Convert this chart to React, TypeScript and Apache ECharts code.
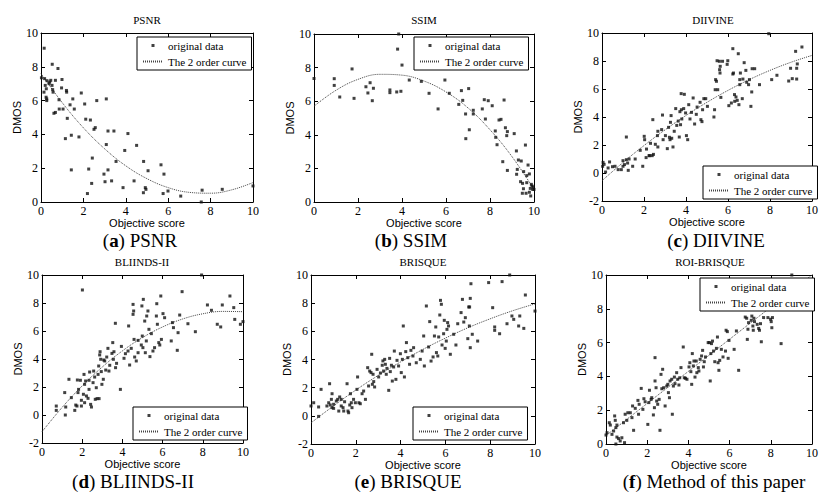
import React, { useEffect, useRef } from "react";
import * as echarts from "echarts";

type Pt = [number, number];

// ---------- data ----------
const psnrPoints: Pt[] = [
  [0.15, 9.1], [0.02, 7.35], [0.17, 7.3], [0.28, 7.18], [0.2, 6.9], [0.25, 6.7], [0.14, 6.5], [0.24, 6.2],
  [0.27, 6.1], [0.27, 6.0], [0.38, 7.0], [0.41, 7.1], [0.46, 7.2], [0.52, 6.9], [0.55, 6.65], [0.57, 6.5],
  [0.53, 8.15], [0.68, 7.2], [0.8, 7.9], [0.99, 7.25], [0.97, 6.75], [0.85, 6.05], [1.2, 6.6], [1.21, 6.5],
  [0.86, 5.5], [1.04, 5.5], [0.61, 5.25], [0.68, 5.3], [1.24, 4.95], [1.37, 5.75], [1.5, 6.1], [1.57, 5.5],
  [1.9, 6.45], [2.06, 5.8], [1.15, 3.75], [1.43, 3.95], [1.79, 3.85], [2.63, 6.0], [3.08, 6.1], [2.11, 4.9],
  [2.33, 4.85], [2.5, 4.3], [2.56, 4.4], [3.16, 4.2], [3.44, 4.2], [3.08, 3.4], [4.1, 4.05], [3.95, 3.05],
  [4.51, 3.35], [3.54, 2.4], [2.42, 2.6], [1.43, 1.9], [2.25, 1.95], [2.97, 1.65], [3.16, 1.9], [3.02, 1.2],
  [3.33, 1.25], [2.39, 1.1], [2.19, 0.5], [3.87, 0.85], [4.39, 1.25], [4.84, 2.4], [5.05, 1.85], [4.92, 0.85],
  [4.95, 0.75], [4.83, 0.55], [5.66, 2.2], [5.8, 1.65], [5.76, 0.5], [5.99, 0.65], [6.59, 0.35], [7.6, 0.7],
  [7.56, 0.0], [8.55, 0.75], [10.0, 0.95],
];

const ssimPoints: Pt[] = [
  [0.0, 7.35], [0.92, 7.34], [0.92, 6.94], [1.17, 6.25], [1.73, 7.92], [1.82, 6.17], [2.36, 6.86], [2.55, 7.1],
  [2.45, 6.49], [2.7, 6.77], [2.65, 6.03], [3.45, 6.67], [3.45, 6.51], [3.8, 9.1], [3.85, 10.0], [3.76, 6.55],
  [3.95, 6.59], [4.0, 8.15], [4.33, 7.26], [4.88, 7.18], [5.23, 6.47], [5.64, 5.54], [5.95, 7.26], [6.15, 6.47],
  [6.58, 5.81], [6.7, 6.63], [6.76, 6.05], [6.89, 5.24], [6.9, 3.77], [7.03, 6.75], [7.06, 4.3], [7.24, 5.46],
  [7.24, 5.24], [7.65, 5.54], [7.74, 6.09], [7.79, 4.94], [7.92, 6.03], [8.1, 5.73], [8.24, 4.23], [8.26, 3.85],
  [8.32, 3.41], [8.41, 4.88], [8.5, 4.92], [8.58, 2.4], [8.64, 6.07], [8.7, 4.42], [8.76, 3.95], [8.79, 4.19],
  [8.79, 1.88], [9.1, 4.07], [9.2, 3.04], [9.24, 1.94], [9.21, 1.65], [9.29, 2.5], [9.42, 2.44], [9.39, 1.21],
  [9.48, 1.11], [9.53, 1.81], [9.61, 3.39], [9.52, 0.79], [9.67, 1.15], [9.67, 1.57], [9.73, 2.2], [9.79, 1.67],
  [9.83, 0.81], [9.88, 1.05], [9.47, 0.52], [9.64, 0.52], [9.79, 0.58], [9.85, 0.36], [9.94, 0.75], [10.0, 0.75],
  [9.91, 0.95], [9.97, 0.9],
];

const diivinePoints: Pt[] = [
  [0.05, 0.76], [0.1, 0.62], [0.03, 0.48], [0.17, 0.07], [0.29, 0.36], [0.36, 0.79], [0.5, 0.45], [0.62, 0.48],
  [0.77, 0.24], [0.92, 0.24], [1.0, 0.48], [1.0, 0.88], [1.07, 0.6], [1.16, 0.95], [1.22, 0.71], [1.25, 0.19],
  [1.16, 2.57], [1.29, 1.0], [1.46, 0.48], [1.58, 1.0], [1.82, 1.62], [1.94, 0.48], [2.01, 2.62], [2.03, 2.38],
  [2.12, 1.71], [2.1, 1.1], [2.24, 1.24], [2.31, 2.12], [2.27, 1.24], [2.39, 1.24], [2.45, 1.33], [2.42, 3.81],
  [2.54, 2.05], [2.64, 2.67], [2.66, 1.86], [2.66, 2.98], [2.84, 3.1], [2.88, 4.14], [2.91, 2.38], [3.02, 2.67],
  [3.11, 1.74], [3.17, 3.26], [3.21, 2.55], [3.26, 3.62], [3.29, 4.1], [3.24, 2.38], [3.32, 2.48], [3.38, 1.86],
  [3.44, 2.98], [3.51, 4.6], [3.56, 3.4], [3.63, 3.71], [3.68, 2.57], [3.71, 4.38], [3.74, 3.45], [3.78, 4.52],
  [3.8, 3.86], [3.89, 4.6], [3.77, 5.67], [3.92, 5.62], [3.98, 4.29], [4.02, 2.67], [4.08, 2.38], [4.13, 4.88],
  [4.19, 3.86], [4.26, 4.33], [4.34, 5.36], [4.41, 3.5], [4.49, 4.19], [4.53, 4.71], [4.67, 5.05], [4.71, 3.81],
  [4.76, 3.67], [4.79, 4.52], [4.85, 5.31], [4.94, 5.31], [5.02, 4.76], [5.33, 4.0], [5.36, 4.52], [5.41, 6.67],
  [5.45, 6.55], [5.39, 5.95], [5.51, 5.95], [5.48, 8.02], [5.59, 7.98], [5.63, 7.62], [5.6, 7.38], [5.62, 7.14],
  [5.66, 5.4], [5.74, 7.98], [5.96, 7.76], [5.99, 8.02], [6.04, 4.81], [6.16, 5.0], [6.23, 8.88], [6.23, 7.07],
  [6.26, 7.14], [6.31, 5.6], [6.32, 5.12], [6.38, 5.43], [6.44, 5.19], [6.49, 8.52], [6.52, 4.88], [6.56, 6.67],
  [6.59, 7.14], [6.56, 6.31], [6.68, 5.31], [6.71, 6.71], [6.77, 7.88], [6.85, 7.33], [6.89, 6.48], [6.98, 6.31],
  [7.02, 6.67], [7.09, 4.76], [7.13, 5.79], [7.15, 7.45], [7.27, 7.45], [7.5, 6.31], [7.94, 9.95], [8.08, 6.67],
  [8.33, 6.98], [8.89, 6.57], [8.98, 7.48], [9.06, 6.74], [9.22, 8.69], [9.27, 7.48], [9.3, 7.79], [9.27, 6.71],
  [9.52, 9.0],
];

const bliindsPoints: Pt[] = [
  [0.71, 0.64], [0.71, 0.33], [1.13, 1.6], [1.16, 0.0], [1.18, 0.57], [1.34, 2.55], [1.46, 1.24], [1.63, 0.33],
  [1.68, 0.71], [1.74, 0.64], [1.76, 2.5], [1.79, 1.6], [1.82, 1.83], [1.91, 2.48], [1.96, 1.05], [1.96, 0.64],
  [2.01, 8.93], [2.06, 1.48], [2.09, 2.9], [2.12, 2.19], [2.12, 0.88], [2.17, 2.43], [2.21, 1.36], [2.29, 1.19],
  [2.34, 1.83], [2.34, 2.48], [2.37, 3.07], [2.42, 0.76], [2.46, 0.57], [2.54, 2.31], [2.57, 3.14], [2.62, 2.71],
  [2.65, 1.12], [2.7, 1.95], [2.74, 1.17], [2.79, 2.9], [2.82, 3.5], [2.84, 1.17], [2.87, 4.29], [2.89, 4.52],
  [2.92, 3.98], [2.95, 3.1], [2.98, 2.19], [3.05, 2.55], [3.07, 3.93], [3.12, 3.86], [3.17, 3.21], [3.22, 4.14],
  [3.28, 4.76], [3.33, 3.14], [3.37, 3.55], [3.48, 4.4], [3.52, 5.17], [3.55, 3.98], [3.58, 4.52], [3.65, 6.55],
  [3.66, 3.38], [3.71, 3.69], [3.9, 1.83], [3.95, 4.9], [4.08, 4.05], [4.15, 4.38], [4.28, 4.57], [4.31, 6.36],
  [4.36, 3.57], [4.44, 4.76], [4.53, 7.9], [4.53, 7.19], [4.56, 7.43], [4.58, 5.4], [4.61, 4.14], [4.69, 3.86],
  [4.78, 5.33], [4.78, 4.45], [4.94, 5.0], [4.97, 7.79], [4.99, 5.64], [5.02, 4.81], [5.04, 8.26], [5.11, 6.71],
  [5.14, 4.45], [5.19, 5.29], [5.21, 7.07], [5.27, 7.43], [5.32, 6.12], [5.37, 4.17], [5.44, 5.81], [5.52, 4.57],
  [5.6, 4.81], [5.69, 7.07], [5.71, 7.95], [5.74, 6.48], [5.81, 5.17], [5.86, 5.0], [5.91, 8.5], [5.94, 5.4],
  [6.02, 7.24], [6.1, 6.95], [6.43, 5.29], [6.49, 6.6], [6.54, 6.24], [6.73, 4.62], [6.77, 5.88], [6.85, 7.14],
  [6.97, 8.81], [7.26, 6.52], [7.63, 5.95], [7.94, 10.0], [8.23, 7.86], [8.43, 7.48], [8.72, 6.48], [8.89, 6.29],
  [8.97, 7.86], [9.35, 8.5], [9.54, 7.67], [9.59, 6.83], [9.87, 6.48], [10.0, 6.67],
];

const brisquePoints: Pt[] = [
  [0.0, 0.7], [0.12, 0.93], [0.34, 0.63], [0.34, -0.04], [0.45, 1.88], [0.71, 0.7], [0.79, 0.93], [0.83, 2.28],
  [0.86, 0.77], [0.91, 1.17], [0.94, 1.57], [0.94, 0.58], [1.01, 0.82], [1.01, 0.53], [1.13, 1.05], [1.19, 1.17],
  [1.24, 0.34], [1.28, 1.34], [1.35, 1.17], [1.35, 0.7], [1.43, 0.58], [1.46, 0.34], [1.5, 1.0], [1.61, 2.28],
  [1.65, 0.34], [1.68, 0.22], [1.73, 0.77], [1.76, 1.57], [1.8, 0.93], [1.83, 0.58], [1.9, 1.17], [1.98, 0.93],
  [2.05, 1.88], [2.08, 2.76], [2.14, 0.93], [2.2, 0.86], [2.28, 1.57], [2.35, 1.76], [2.43, 1.17], [2.53, 3.42],
  [2.57, 2.12], [2.62, 3.18], [2.68, 3.07], [2.71, 4.37], [2.74, 2.24], [2.77, 2.95], [2.8, 2.43], [2.84, 2.05],
  [2.95, 3.3], [3.02, 2.76], [3.1, 3.04], [3.18, 3.59], [3.21, 3.9], [3.24, 3.18], [3.29, 4.01], [3.32, 3.66],
  [3.36, 2.95], [3.39, 3.37], [3.47, 1.81], [3.51, 4.08], [3.54, 3.14], [3.59, 3.59], [3.63, 2.47], [3.69, 3.47],
  [3.72, 4.6], [3.79, 2.59], [3.84, 3.94], [3.91, 3.54], [3.99, 4.41], [4.03, 3.07], [4.08, 4.01], [4.12, 6.38],
  [4.17, 2.76], [4.23, 4.56], [4.26, 5.2], [4.32, 4.13], [4.4, 3.66], [4.46, 4.65], [4.55, 4.25], [4.58, 4.84],
  [4.7, 3.77], [4.88, 4.01], [4.96, 4.6], [5.03, 5.67], [5.06, 3.54], [5.15, 7.8], [5.25, 4.89], [5.3, 6.69],
  [5.36, 3.89], [5.45, 4.18], [5.51, 5.67], [5.57, 6.31], [5.6, 4.49], [5.66, 4.25], [5.7, 5.6], [5.75, 7.16],
  [5.78, 8.2], [5.82, 7.92], [5.85, 5.03], [5.92, 5.83], [5.95, 6.78], [5.99, 4.79], [6.04, 5.31], [6.07, 6.14],
  [6.1, 6.62], [6.14, 6.38], [6.22, 4.37], [6.37, 5.79], [6.47, 5.03], [6.55, 6.54], [6.7, 7.33], [6.76, 8.27],
  [6.82, 6.66], [6.89, 6.97], [7.0, 5.48], [7.04, 7.73], [7.07, 6.38], [7.08, 7.73], [7.11, 4.84], [7.11, 8.34],
  [7.14, 9.38], [7.2, 5.79], [7.44, 5.31], [7.93, 9.46], [8.11, 7.68], [8.2, 6.31], [8.2, 6.07], [8.42, 5.83],
  [8.53, 9.53], [8.75, 6.54], [8.97, 7.09], [9.05, 6.85], [9.27, 6.38], [9.32, 7.09], [9.5, 6.21], [9.57, 8.58],
  [8.87, 10.0], [10.0, 7.44],
];

const roiPoints: Pt[] = [
  [0.0, 0.53], [0.05, 0.67], [0.16, 1.26], [0.21, 1.12], [0.29, 0.57], [0.37, 0.77], [0.42, 1.66], [0.45, 1.4],
  [0.48, 0.97], [0.53, 1.12], [0.53, 0.41], [0.61, 0.32], [0.48, 0.0], [0.69, 0.18], [0.77, 0.37], [0.85, 1.26],
  [0.9, 0.08], [0.93, 1.76], [1.01, 1.4], [1.06, 1.85], [1.18, 1.85], [1.26, 1.56], [1.29, 2.25], [1.34, 0.81],
  [1.42, 2.11], [1.55, 2.58], [1.58, 1.76], [1.61, 2.35], [1.71, 3.29], [1.79, 2.05], [1.84, 2.68], [1.9, 2.5],
  [2.03, 1.16], [2.08, 2.45], [2.11, 3.18], [2.19, 2.64], [2.22, 2.74], [2.3, 1.72], [2.35, 2.15], [2.38, 5.11],
  [2.38, 3.73], [2.43, 3.33], [2.46, 2.54], [2.51, 2.35], [2.58, 2.64], [2.62, 0.81], [2.67, 4.12], [2.71, 3.27],
  [2.75, 4.42], [2.8, 3.33], [2.87, 2.25], [2.95, 3.43], [3.0, 3.53], [3.03, 3.04], [3.08, 2.74], [3.11, 3.73],
  [3.19, 3.83], [3.22, 1.76], [3.27, 3.43], [3.32, 3.96], [3.35, 3.57], [3.43, 4.22], [3.48, 3.83], [3.54, 3.49],
  [3.58, 3.92], [3.64, 4.52], [3.75, 5.74], [3.8, 3.92], [3.86, 3.89], [3.93, 3.83], [4.03, 4.56], [4.07, 4.81],
  [4.12, 4.28], [4.16, 3.53], [4.19, 5.35], [4.24, 4.62], [4.27, 4.91], [4.32, 3.96], [4.38, 4.91], [4.41, 4.22],
  [4.48, 4.52], [4.51, 4.32], [4.57, 5.01], [4.64, 5.21], [4.69, 5.54], [4.73, 4.56], [4.77, 4.87], [4.83, 5.15],
  [4.96, 6.0], [5.02, 6.0], [5.06, 3.73], [5.09, 5.35], [5.12, 5.94], [5.17, 6.09], [5.22, 5.5], [5.28, 4.87],
  [5.36, 5.66], [5.41, 6.33], [5.44, 4.81], [5.48, 4.36], [5.52, 4.95], [5.6, 5.6], [5.68, 5.15], [5.8, 5.5],
  [5.83, 6.73], [5.89, 6.65], [5.93, 5.07], [5.97, 6.13], [6.22, 5.6], [6.33, 6.69], [6.44, 4.36], [6.76, 7.51],
  [6.83, 7.44], [6.86, 6.19], [6.89, 6.79], [6.92, 7.18], [7.05, 7.32], [7.08, 7.57], [7.13, 6.98], [7.15, 6.73],
  [7.18, 7.44], [7.21, 7.24], [7.34, 7.08], [7.41, 6.84], [7.45, 6.73], [7.5, 7.12], [7.54, 6.05], [7.65, 7.48],
  [7.86, 7.48], [7.99, 7.38], [8.02, 7.24], [8.05, 6.88], [8.08, 7.48], [8.5, 5.94], [9.02, 10.0], [9.95, 8.76],
];

// fitted 2nd-order curves, read at x = 0..10
const curveX = [0, 1, 2, 3, 4, 5, 6, 7, 8, 9, 10];
const psnrCurve = [7.6, 5.88, 4.39, 3.15, 2.14, 1.38, 0.85, 0.57, 0.52, 0.72, 1.15];
const ssimCurve = [5.7, 6.65, 7.3, 7.6, 7.55, 7.2, 6.55, 5.6, 4.3, 2.7, 0.75];
const diivineCurve = [-0.55, 0.75, 1.96, 3.08, 4.11, 5.05, 5.9, 6.66, 7.33, 7.91, 8.4];
const bliindsCurve = [-1.2, 0.54, 2.08, 3.43, 4.58, 5.53, 6.29, 6.86, 7.23, 7.4, 7.38];
const brisqueCurve = [-0.5, 0.7, 1.83, 2.87, 3.83, 4.72, 5.52, 6.25, 6.89, 7.46, 7.95];
const roiCurve = [0.5, 1.45, 2.4, 3.35, 4.3, 5.25, 6.2, 7.15, 8.1, 9.05, 10.0];

const panelTitles = ["PSNR", "SSIM", "DIIVINE", "BLIINDS-II", "BRISQUE", "ROI-BRISQUE"];
const captionTags = ["a", "b", "c", "d", "e", "f"];
const captionTexts = [" PSNR", " SSIM", " DIIVINE", " BLIINDS-II", " BRISQUE", " Method of this paper"];
const yMins = [0, 0, -2, -2, -2, 0];
const seriesNames = ["original data", "The 2 order curve"];
const xAxisName = "Objective score";
const yAxisName = "DMOS";

const allPoints = [psnrPoints, ssimPoints, diivinePoints, bliindsPoints, brisquePoints, roiPoints];
const allCurves = [psnrCurve, ssimCurve, diivineCurve, bliindsCurve, brisqueCurve, roiCurve];

// ---------- layout (pixels) ----------
const layouts = [
  { grid: { left: 41, top: 33, width: 212, height: 169 }, legend: { left: 137, top: 37 }, title: { x: 147, y: 14 }, caption: { x: 140, y: 240 } },
  { grid: { left: 314, top: 34, width: 220, height: 168 }, legend: { left: 414, top: 37 }, title: { x: 424, y: 14 }, caption: { x: 411, y: 240 } },
  { grid: { left: 602, top: 33, width: 222, height: 168 }, legend: { left: 703, top: 166 }, title: { x: 713, y: 14 }, caption: { x: 716, y: 240 } },
  { grid: { left: 42, top: 275, width: 201, height: 168 }, legend: { left: 133, top: 407 }, title: { x: 142, y: 256 }, caption: { x: 133, y: 481 } },
  { grid: { left: 311, top: 275, width: 224, height: 169 }, legend: { left: 413, top: 407 }, title: { x: 423, y: 256 }, caption: { x: 408, y: 481 } },
  { grid: { left: 606, top: 275, width: 207, height: 169 }, legend: { left: 700, top: 278 }, title: { x: 710, y: 256 }, caption: { x: 714, y: 481 } },
];

const SERIF = "Liberation Serif";
const SANS = "Liberation Sans";
const CURVE_COLOR = "#444";

function buildOption() {
  const grid: any[] = [];
  const xAxis: any[] = [];
  const yAxis: any[] = [];
  const series: any[] = [];
  const legend: any[] = [];
  const title: any[] = [];
  const graphic: any[] = [];

  const line = { onZero: false, lineStyle: { color: "#000", width: 1 } };
  const tick = { show: true, inside: true, length: 4, lineStyle: { color: "#000", width: 1 } };

  layouts.forEach((l, i) => {
    grid.push({ ...l.grid, show: false });
    xAxis.push({
      type: "value", gridIndex: i, min: 0, max: 10, interval: 2, position: "bottom",
      name: xAxisName, nameLocation: "middle", nameGap: 14,
      nameTextStyle: { fontFamily: SANS, fontSize: 11, color: "#000" },
      axisLine: line, axisTick: tick,
      axisLabel: { fontFamily: SERIF, fontSize: 12, color: "#000", margin: 3 },
      splitLine: { show: false },
    });
    xAxis.push({
      type: "value", gridIndex: i, min: 0, max: 10, interval: 2, position: "top",
      axisLine: line, axisTick: tick, axisLabel: { show: false }, splitLine: { show: false },
    });
    yAxis.push({
      type: "value", gridIndex: i, min: yMins[i], max: 10, interval: 2, position: "left",
      name: yAxisName, nameLocation: "middle", nameGap: 17,
      nameTextStyle: { fontFamily: SANS, fontSize: 11, color: "#000" },
      axisLine: line, axisTick: tick,
      axisLabel: { fontFamily: SERIF, fontSize: 12, color: "#000", margin: 3 },
      splitLine: { show: false },
    });
    yAxis.push({
      type: "value", gridIndex: i, min: yMins[i], max: 10, interval: 2, position: "right",
      axisLine: line, axisTick: tick, axisLabel: { show: false }, splitLine: { show: false },
    });

    series.push({
      type: "scatter", name: seriesNames[0], xAxisIndex: 2 * i, yAxisIndex: 2 * i,
      data: allPoints[i], symbol: "rect", symbolSize: 3, clip: false,
      itemStyle: { color: "#111" }, z: 3,
    });
    series.push({
      type: "line", name: seriesNames[1], xAxisIndex: 2 * i, yAxisIndex: 2 * i,
      data: curveX.map((x, k) => [x, allCurves[i][k]]), symbol: "none", smooth: 0.4,
      itemStyle: { color: CURVE_COLOR },
      lineStyle: { type: [1, 1], width: 1, color: CURVE_COLOR }, z: 2,
    });

    legend.push({
      left: l.legend.left, top: l.legend.top, orient: "vertical", align: "left",
      padding: [2, 5, 2, 5], itemGap: 3, itemWidth: 20, itemHeight: 3,
      borderColor: "#000", borderWidth: 1, borderRadius: 0, backgroundColor: "#fff",
      selectedMode: false, z: 10,
      textStyle: { fontFamily: SERIF, fontSize: 11, color: "#000", lineHeight: 13 },
      data: [
        { name: seriesNames[0], icon: "path://M0 0H10V10H0Z" },
        { name: seriesNames[1], itemStyle: { opacity: 0 } },
      ],
    });

    title.push({
      text: panelTitles[i], left: l.title.x, top: l.title.y, textAlign: "center", padding: 0,
      textStyle: { fontFamily: SERIF, fontSize: 11, fontWeight: "normal", color: "#000" },
    });

    graphic.push({
      type: "text", x: l.caption.x, y: l.caption.y,
      style: {
        text: `{p|(}{b|${captionTags[i]}}{p|)${captionTexts[i]}}`,
        align: "center", verticalAlign: "middle",
        rich: {
          p: { fontFamily: SERIF, fontSize: 19, fill: "#000" },
          b: { fontFamily: SERIF, fontSize: 19, fontWeight: "bold", fill: "#000" },
        },
      },
    });
  });

  return {
    animation: false,
    backgroundColor: "#fff",
    grid, xAxis, yAxis, series, legend, title, graphic,
  };
}

export default function App() {
  const ref = useRef<HTMLDivElement>(null);
  useEffect(() => {
    document.body.style.margin = "0";
    if (!ref.current) return;
    const chart = echarts.init(ref.current, undefined, { renderer: "svg" });
    chart.setOption(buildOption() as any);
    return () => chart.dispose();
  }, []);
  return <div ref={ref} style={{ width: 821, height: 497 }} />;
}
